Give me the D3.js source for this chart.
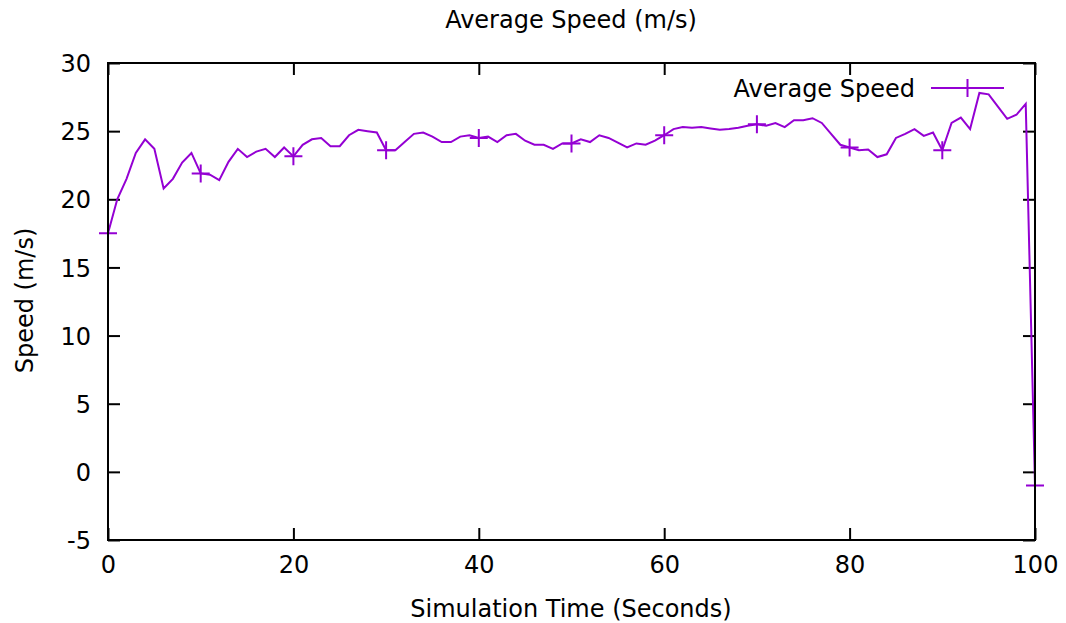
<!DOCTYPE html>
<html>
<head>
<meta charset="utf-8">
<script src="https://cdn.jsdelivr.net/npm/d3@7"></script>
<style>
  html, body { margin: 0; padding: 0; background: #fff; }
  svg { display: block; }
  text { font-family: "DejaVu Sans", sans-serif; fill: #000; }
</style>
</head>
<body>
<svg id="chart" width="1066" height="623"></svg>
<script>
// ---- data ----
const times = d3.range(0, 101); // 0..100 seconds
const avgSpeed = [
  17.5, 20.0, 21.5, 23.4, 24.4, 23.7, 20.8, 21.5, 22.7, 23.4,
  21.9, 21.8, 21.4, 22.75, 23.7, 23.1, 23.5, 23.7, 23.1, 23.8,
  23.15, 24.0, 24.4, 24.5, 23.9, 23.9, 24.7, 25.1, 25.0, 24.9,
  23.6, 23.6, 24.2, 24.8, 24.9, 24.6, 24.2, 24.2, 24.6, 24.7,
  24.5, 24.6, 24.2, 24.7, 24.8, 24.3, 24.0, 24.0, 23.7, 24.1,
  24.1, 24.4, 24.2, 24.7, 24.5, 24.15, 23.8, 24.1, 24.0, 24.3,
  24.7, 25.15, 25.3, 25.25, 25.3, 25.2, 25.1, 25.15, 25.25, 25.4,
  25.5, 25.4, 25.6, 25.3, 25.8, 25.8, 25.95, 25.6, 24.8, 24.0,
  23.8, 23.6, 23.65, 23.1, 23.3, 24.5, 24.8, 25.15, 24.65, 24.9,
  23.6, 25.6, 26.0, 25.15, 27.8, 27.7, 26.8, 25.9, 26.2, 27.0,
  -1.0
];
const xTicks = [0, 20, 40, 60, 80, 100];
const yTicks = [-5, 0, 5, 10, 15, 20, 25, 30];
const markerEvery = 10;
const seriesName = "Average Speed";
const titleText = "Average Speed (m/s)";
const xLabel = "Simulation Time (Seconds)";
const yLabel = "Speed (m/s)";

// ---- layout ----
const svg = d3.select("#chart");
const pL = 108, pR = 1035, pT = 63, pB = 540;
const color = "#9400D3";
const fs = 24;
const plain = d => String(d); // hyphen-minus like the original

const x = d3.scaleLinear().domain([0, 100]).range([pL, pR]);
const y = d3.scaleLinear().domain([-5, 30]).range([pB, pT]);

const data = times.map((t, i) => ({ t, v: avgSpeed[i] }));

// axes with inward ticks
const tickLen = 12;
const gx = svg.append("g").attr("transform", `translate(0,${pB})`)
  .call(d3.axisBottom(x).tickValues(xTicks).tickFormat(plain).tickSizeInner(-tickLen).tickSizeOuter(0).tickPadding(16));
const gy = svg.append("g").attr("transform", `translate(${pL},0)`)
  .call(d3.axisLeft(y).tickValues(yTicks).tickFormat(plain).tickSizeInner(-tickLen).tickSizeOuter(0).tickPadding(17));
// mirror ticks
const gxTop = svg.append("g").attr("transform", `translate(0,${pT})`)
  .call(d3.axisTop(x).tickValues(xTicks).tickSizeInner(-tickLen).tickSizeOuter(0).tickFormat(""));
const gyRight = svg.append("g").attr("transform", `translate(${pR},0)`)
  .call(d3.axisRight(y).tickValues(yTicks).tickSizeInner(-tickLen).tickSizeOuter(0).tickFormat(""));

[gx, gy, gxTop, gyRight].forEach(g => {
  g.select(".domain").remove();
  g.selectAll(".tick line").attr("stroke", "#000").attr("stroke-width", 2);
  g.selectAll(".tick text").attr("font-size", fs).attr("font-family", "DejaVu Sans").attr("fill", "#000");
});
gy.selectAll(".tick text").attr("dy", "0.36em");

// line
const line = d3.line().x(d => x(d.t)).y(d => y(d.v));
svg.append("path").datum(data)
  .attr("d", line).attr("fill", "none")
  .attr("stroke", color).attr("stroke-width", 2).attr("stroke-linejoin", "miter");

// markers (+)
const ms = 9;
const marks = svg.append("g");
data.filter((d, i) => i % markerEvery === 0).forEach(d => {
  const cx = x(d.t), cy = y(d.v);
  marks.append("path")
    .attr("d", `M${cx - ms},${cy}H${cx + ms}M${cx},${cy - ms}V${cy + ms}`)
    .attr("stroke", color).attr("stroke-width", 2).attr("fill", "none");
});

// border
svg.append("rect").attr("x", pL).attr("y", pT)
  .attr("width", pR - pL).attr("height", pB - pT)
  .attr("fill", "none").attr("stroke", "#000").attr("stroke-width", 2);

// title and labels
svg.append("text").attr("x", 571).attr("y", 28).attr("text-anchor", "middle")
  .attr("font-size", fs).text(titleText);
svg.append("text").attr("x", 571).attr("y", 617).attr("text-anchor", "middle")
  .attr("font-size", fs).text(xLabel);
svg.append("text").attr("transform", `translate(24,${(pT + pB) / 2 - 1}) rotate(-90)`)
  .attr("text-anchor", "middle").attr("dy", "0.36em")
  .attr("font-size", fs).text(yLabel);

// legend
const lgY = 88;
svg.append("text").attr("x", 915).attr("y", lgY).attr("dy", "0.36em")
  .attr("text-anchor", "end").attr("font-size", fs).text(seriesName);
svg.append("line").attr("x1", 931).attr("x2", 1004).attr("y1", lgY).attr("y2", lgY)
  .attr("stroke", color).attr("stroke-width", 2);
svg.append("path").attr("d", `M${967.5 - ms},${lgY}H${967.5 + ms}M${967.5},${lgY - ms}V${lgY + ms}`)
  .attr("stroke", color).attr("stroke-width", 2);
</script>
</body>
</html>
